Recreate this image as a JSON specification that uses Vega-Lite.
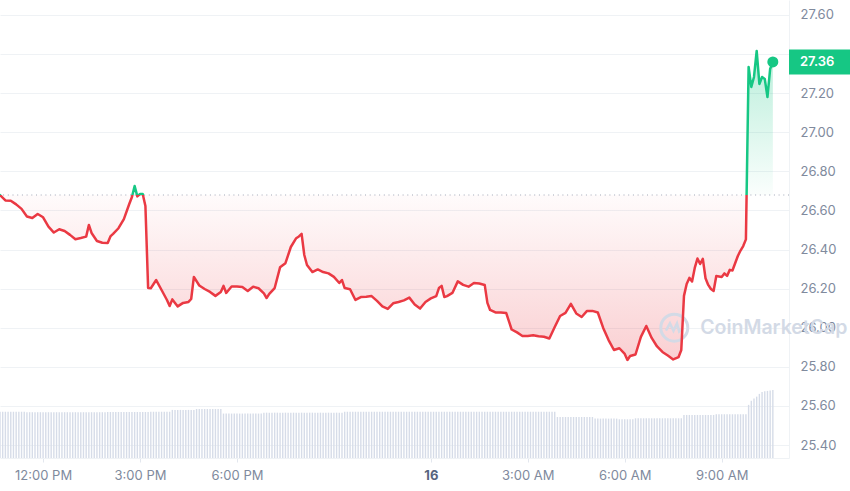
{
"$schema":"https://vega.github.io/schema/vega-lite/v6.json",
"width":789,"height":458,
"autosize":{"type":"none"},
"padding":{"left":0,"top":0,"right":61,"bottom":33},
"background":"#ffffff",
"config":{"view":{"stroke":null},"font":"Inter"},
"datasets":{
"price":[
{"t":"2024-01-15T10:40","p":26.679},{"t":"2024-01-15T10:50","p":26.651},{"t":"2024-01-15T11:00","p":26.650},{"t":"2024-01-15T11:10","p":26.631},{"t":"2024-01-15T11:20","p":26.608},{"t":"2024-01-15T11:30","p":26.569},{"t":"2024-01-15T11:40","p":26.561},{"t":"2024-01-15T11:50","p":26.582},
{"t":"2024-01-15T12:00","p":26.565},{"t":"2024-01-15T12:10","p":26.517},{"t":"2024-01-15T12:20","p":26.487},{"t":"2024-01-15T12:30","p":26.504},{"t":"2024-01-15T12:40","p":26.495},{"t":"2024-01-15T12:50","p":26.475},
{"t":"2024-01-15T13:00","p":26.453},{"t":"2024-01-15T13:10","p":26.459},{"t":"2024-01-15T13:20","p":26.466},{"t":"2024-01-15T13:25","p":26.526},{"t":"2024-01-15T13:30","p":26.485},{"t":"2024-01-15T13:40","p":26.444},{"t":"2024-01-15T13:50","p":26.435},
{"t":"2024-01-15T14:00","p":26.434},{"t":"2024-01-15T14:05","p":26.467},{"t":"2024-01-15T14:10","p":26.480},{"t":"2024-01-15T14:20","p":26.509},{"t":"2024-01-15T14:30","p":26.556},{"t":"2024-01-15T14:40","p":26.633},{"t":"2024-01-15T14:45","p":26.669},{"t":"2024-01-15T14:50","p":26.725},{"t":"2024-01-15T14:55","p":26.672},
{"t":"2024-01-15T15:00","p":26.684},{"t":"2024-01-15T15:05","p":26.684},{"t":"2024-01-15T15:10","p":26.623},{"t":"2024-01-15T15:15","p":26.203},{"t":"2024-01-15T15:20","p":26.202},{"t":"2024-01-15T15:30","p":26.244},{"t":"2024-01-15T15:40","p":26.193},{"t":"2024-01-15T15:50","p":26.142},{"t":"2024-01-15T15:55","p":26.111},
{"t":"2024-01-15T16:00","p":26.145},{"t":"2024-01-15T16:10","p":26.109},{"t":"2024-01-15T16:20","p":26.127},{"t":"2024-01-15T16:30","p":26.132},{"t":"2024-01-15T16:35","p":26.147},{"t":"2024-01-15T16:40","p":26.260},{"t":"2024-01-15T16:50","p":26.216},
{"t":"2024-01-15T17:00","p":26.198},{"t":"2024-01-15T17:10","p":26.183},{"t":"2024-01-15T17:20","p":26.163},{"t":"2024-01-15T17:30","p":26.183},{"t":"2024-01-15T17:35","p":26.214},{"t":"2024-01-15T17:40","p":26.178},{"t":"2024-01-15T17:50","p":26.211},
{"t":"2024-01-15T18:00","p":26.211},{"t":"2024-01-15T18:10","p":26.208},{"t":"2024-01-15T18:20","p":26.188},{"t":"2024-01-15T18:30","p":26.210},{"t":"2024-01-15T18:40","p":26.202},{"t":"2024-01-15T18:50","p":26.176},{"t":"2024-01-15T18:55","p":26.152},
{"t":"2024-01-15T19:00","p":26.173},{"t":"2024-01-15T19:10","p":26.203},{"t":"2024-01-15T19:20","p":26.309},{"t":"2024-01-15T19:30","p":26.330},{"t":"2024-01-15T19:40","p":26.413},{"t":"2024-01-15T19:50","p":26.458},{"t":"2024-01-15T19:55","p":26.467},
{"t":"2024-01-15T20:00","p":26.480},{"t":"2024-01-15T20:05","p":26.372},{"t":"2024-01-15T20:10","p":26.321},{"t":"2024-01-15T20:20","p":26.285},{"t":"2024-01-15T20:30","p":26.298},{"t":"2024-01-15T20:40","p":26.285},{"t":"2024-01-15T20:50","p":26.278},
{"t":"2024-01-15T21:00","p":26.260},{"t":"2024-01-15T21:10","p":26.229},{"t":"2024-01-15T21:15","p":26.244},{"t":"2024-01-15T21:20","p":26.203},{"t":"2024-01-15T21:30","p":26.197},{"t":"2024-01-15T21:40","p":26.142},{"t":"2024-01-15T21:50","p":26.157},
{"t":"2024-01-15T22:00","p":26.159},{"t":"2024-01-15T22:10","p":26.162},{"t":"2024-01-15T22:20","p":26.137},{"t":"2024-01-15T22:30","p":26.109},{"t":"2024-01-15T22:40","p":26.096},{"t":"2024-01-15T22:50","p":26.125},
{"t":"2024-01-15T23:00","p":26.132},{"t":"2024-01-15T23:10","p":26.140},{"t":"2024-01-15T23:20","p":26.154},{"t":"2024-01-15T23:30","p":26.119},{"t":"2024-01-15T23:40","p":26.098},{"t":"2024-01-15T23:50","p":26.132},
{"t":"2024-01-16T00:00","p":26.150},{"t":"2024-01-16T00:10","p":26.162},{"t":"2024-01-16T00:15","p":26.203},{"t":"2024-01-16T00:20","p":26.214},{"t":"2024-01-16T00:25","p":26.157},{"t":"2024-01-16T00:30","p":26.162},{"t":"2024-01-16T00:40","p":26.178},{"t":"2024-01-16T00:50","p":26.237},
{"t":"2024-01-16T01:00","p":26.219},{"t":"2024-01-16T01:10","p":26.210},{"t":"2024-01-16T01:20","p":26.229},{"t":"2024-01-16T01:30","p":26.226},{"t":"2024-01-16T01:40","p":26.219},{"t":"2024-01-16T01:45","p":26.127},{"t":"2024-01-16T01:50","p":26.091},
{"t":"2024-01-16T02:00","p":26.078},{"t":"2024-01-16T02:10","p":26.078},{"t":"2024-01-16T02:20","p":26.075},{"t":"2024-01-16T02:30","p":25.991},{"t":"2024-01-16T02:40","p":25.976},{"t":"2024-01-16T02:50","p":25.958},
{"t":"2024-01-16T03:00","p":25.958},{"t":"2024-01-16T03:10","p":25.961},{"t":"2024-01-16T03:20","p":25.956},{"t":"2024-01-16T03:30","p":25.954},{"t":"2024-01-16T03:40","p":25.945},{"t":"2024-01-16T03:50","p":26.004},
{"t":"2024-01-16T04:00","p":26.060},{"t":"2024-01-16T04:10","p":26.076},{"t":"2024-01-16T04:20","p":26.122},{"t":"2024-01-16T04:30","p":26.073},{"t":"2024-01-16T04:40","p":26.055},{"t":"2024-01-16T04:50","p":26.086},
{"t":"2024-01-16T05:00","p":26.086},{"t":"2024-01-16T05:10","p":26.078},{"t":"2024-01-16T05:20","p":25.999},{"t":"2024-01-16T05:30","p":25.937},{"t":"2024-01-16T05:40","p":25.886},{"t":"2024-01-16T05:50","p":25.895},
{"t":"2024-01-16T06:00","p":25.866},{"t":"2024-01-16T06:05","p":25.835},{"t":"2024-01-16T06:10","p":25.855},{"t":"2024-01-16T06:20","p":25.863},{"t":"2024-01-16T06:30","p":25.953},{"t":"2024-01-16T06:40","p":26.009},{"t":"2024-01-16T06:50","p":25.948},
{"t":"2024-01-16T07:00","p":25.904},{"t":"2024-01-16T07:10","p":25.876},{"t":"2024-01-16T07:20","p":25.858},{"t":"2024-01-16T07:30","p":25.838},{"t":"2024-01-16T07:40","p":25.850},{"t":"2024-01-16T07:45","p":25.886},{"t":"2024-01-16T07:50","p":26.163},{"t":"2024-01-16T07:55","p":26.224},
{"t":"2024-01-16T08:00","p":26.255},{"t":"2024-01-16T08:05","p":26.237},{"t":"2024-01-16T08:10","p":26.306},{"t":"2024-01-16T08:15","p":26.354},{"t":"2024-01-16T08:20","p":26.326},{"t":"2024-01-16T08:25","p":26.352},{"t":"2024-01-16T08:30","p":26.253},{"t":"2024-01-16T08:35","p":26.219},{"t":"2024-01-16T08:40","p":26.198},{"t":"2024-01-16T08:45","p":26.188},{"t":"2024-01-16T08:50","p":26.265},
{"t":"2024-01-16T09:00","p":26.260},{"t":"2024-01-16T09:05","p":26.278},{"t":"2024-01-16T09:10","p":26.265},{"t":"2024-01-16T09:15","p":26.296},{"t":"2024-01-16T09:20","p":26.293},{"t":"2024-01-16T09:30","p":26.367},{"t":"2024-01-16T09:35","p":26.395},{"t":"2024-01-16T09:40","p":26.418},{"t":"2024-01-16T09:45","p":26.452},{"t":"2024-01-16T09:50","p":27.334},{"t":"2024-01-16T09:55","p":27.232},
{"t":"2024-01-16T10:00","p":27.283},{"t":"2024-01-16T10:05","p":27.416},{"t":"2024-01-16T10:10","p":27.247},{"t":"2024-01-16T10:15","p":27.283},{"t":"2024-01-16T10:20","p":27.273},{"t":"2024-01-16T10:25","p":27.180},{"t":"2024-01-16T10:30","p":27.324},{"t":"2024-01-16T10:35","p":27.360}
],
"vol":[
{"t":"2024-01-15T10:40","v":101},{"t":"2024-01-15T10:45","v":101},{"t":"2024-01-15T10:50","v":101},{"t":"2024-01-15T10:55","v":101},
{"t":"2024-01-15T11:00","v":101},{"t":"2024-01-15T11:05","v":101},{"t":"2024-01-15T11:10","v":101},{"t":"2024-01-15T11:15","v":101},{"t":"2024-01-15T11:20","v":101},{"t":"2024-01-15T11:25","v":101},{"t":"2024-01-15T11:30","v":100},{"t":"2024-01-15T11:35","v":100},{"t":"2024-01-15T11:40","v":100},{"t":"2024-01-15T11:45","v":100},{"t":"2024-01-15T11:50","v":100},{"t":"2024-01-15T11:55","v":100},
{"t":"2024-01-15T12:00","v":100},{"t":"2024-01-15T12:05","v":100},{"t":"2024-01-15T12:10","v":100},{"t":"2024-01-15T12:15","v":100},{"t":"2024-01-15T12:20","v":100},{"t":"2024-01-15T12:25","v":100},{"t":"2024-01-15T12:30","v":100},{"t":"2024-01-15T12:35","v":100},{"t":"2024-01-15T12:40","v":100},{"t":"2024-01-15T12:45","v":100},{"t":"2024-01-15T12:50","v":100},{"t":"2024-01-15T12:55","v":100},
{"t":"2024-01-15T13:00","v":100},{"t":"2024-01-15T13:05","v":100},{"t":"2024-01-15T13:10","v":100},{"t":"2024-01-15T13:15","v":100},{"t":"2024-01-15T13:20","v":100},{"t":"2024-01-15T13:25","v":100},{"t":"2024-01-15T13:30","v":100},{"t":"2024-01-15T13:35","v":100},{"t":"2024-01-15T13:40","v":100},{"t":"2024-01-15T13:45","v":100},{"t":"2024-01-15T13:50","v":100},{"t":"2024-01-15T13:55","v":100},
{"t":"2024-01-15T14:00","v":100.5},{"t":"2024-01-15T14:05","v":100.5},{"t":"2024-01-15T14:10","v":100.5},{"t":"2024-01-15T14:15","v":100.5},{"t":"2024-01-15T14:20","v":100.5},{"t":"2024-01-15T14:25","v":100.5},{"t":"2024-01-15T14:30","v":100.5},{"t":"2024-01-15T14:35","v":100.5},{"t":"2024-01-15T14:40","v":100.5},{"t":"2024-01-15T14:45","v":100.5},{"t":"2024-01-15T14:50","v":100.5},{"t":"2024-01-15T14:55","v":100.5},
{"t":"2024-01-15T15:00","v":100.5},{"t":"2024-01-15T15:05","v":100.5},{"t":"2024-01-15T15:10","v":100.5},{"t":"2024-01-15T15:15","v":100.5},{"t":"2024-01-15T15:20","v":101},{"t":"2024-01-15T15:25","v":101},{"t":"2024-01-15T15:30","v":101},{"t":"2024-01-15T15:35","v":101},{"t":"2024-01-15T15:40","v":101},{"t":"2024-01-15T15:45","v":101},{"t":"2024-01-15T15:50","v":101},{"t":"2024-01-15T15:55","v":101},
{"t":"2024-01-15T16:00","v":105},{"t":"2024-01-15T16:05","v":105},{"t":"2024-01-15T16:10","v":105},{"t":"2024-01-15T16:15","v":105},{"t":"2024-01-15T16:20","v":105},{"t":"2024-01-15T16:25","v":105},{"t":"2024-01-15T16:30","v":105},{"t":"2024-01-15T16:35","v":105},{"t":"2024-01-15T16:40","v":105},{"t":"2024-01-15T16:45","v":107},{"t":"2024-01-15T16:50","v":107},{"t":"2024-01-15T16:55","v":107},
{"t":"2024-01-15T17:00","v":107},{"t":"2024-01-15T17:05","v":107},{"t":"2024-01-15T17:10","v":107},{"t":"2024-01-15T17:15","v":107},{"t":"2024-01-15T17:20","v":107},{"t":"2024-01-15T17:25","v":107},{"t":"2024-01-15T17:30","v":107},{"t":"2024-01-15T17:35","v":97},{"t":"2024-01-15T17:40","v":97},{"t":"2024-01-15T17:45","v":97},{"t":"2024-01-15T17:50","v":97},{"t":"2024-01-15T17:55","v":97},
{"t":"2024-01-15T18:00","v":97},{"t":"2024-01-15T18:05","v":97},{"t":"2024-01-15T18:10","v":97},{"t":"2024-01-15T18:15","v":97},{"t":"2024-01-15T18:20","v":97},{"t":"2024-01-15T18:25","v":97},{"t":"2024-01-15T18:30","v":97},{"t":"2024-01-15T18:35","v":97},{"t":"2024-01-15T18:40","v":97},{"t":"2024-01-15T18:45","v":97},{"t":"2024-01-15T18:50","v":99},{"t":"2024-01-15T18:55","v":99},
{"t":"2024-01-15T19:00","v":99},{"t":"2024-01-15T19:05","v":99},{"t":"2024-01-15T19:10","v":99},{"t":"2024-01-15T19:15","v":99},{"t":"2024-01-15T19:20","v":99},{"t":"2024-01-15T19:25","v":99},{"t":"2024-01-15T19:30","v":99},{"t":"2024-01-15T19:35","v":99},{"t":"2024-01-15T19:40","v":99},{"t":"2024-01-15T19:45","v":99},{"t":"2024-01-15T19:50","v":99},{"t":"2024-01-15T19:55","v":99},
{"t":"2024-01-15T20:00","v":99},{"t":"2024-01-15T20:05","v":99},{"t":"2024-01-15T20:10","v":99},{"t":"2024-01-15T20:15","v":99},{"t":"2024-01-15T20:20","v":99},{"t":"2024-01-15T20:25","v":99},{"t":"2024-01-15T20:30","v":99},{"t":"2024-01-15T20:35","v":99},{"t":"2024-01-15T20:40","v":99},{"t":"2024-01-15T20:45","v":99},{"t":"2024-01-15T20:50","v":99},{"t":"2024-01-15T20:55","v":99},
{"t":"2024-01-15T21:00","v":99},{"t":"2024-01-15T21:05","v":99},{"t":"2024-01-15T21:10","v":99},{"t":"2024-01-15T21:15","v":99},{"t":"2024-01-15T21:20","v":101},{"t":"2024-01-15T21:25","v":101},{"t":"2024-01-15T21:30","v":101},{"t":"2024-01-15T21:35","v":101},{"t":"2024-01-15T21:40","v":101},{"t":"2024-01-15T21:45","v":101},{"t":"2024-01-15T21:50","v":101},{"t":"2024-01-15T21:55","v":101},
{"t":"2024-01-15T22:00","v":101},{"t":"2024-01-15T22:05","v":101},{"t":"2024-01-15T22:10","v":101},{"t":"2024-01-15T22:15","v":101},{"t":"2024-01-15T22:20","v":101},{"t":"2024-01-15T22:25","v":101},{"t":"2024-01-15T22:30","v":101},{"t":"2024-01-15T22:35","v":101},{"t":"2024-01-15T22:40","v":101},{"t":"2024-01-15T22:45","v":101},{"t":"2024-01-15T22:50","v":101},{"t":"2024-01-15T22:55","v":101},
{"t":"2024-01-15T23:00","v":101},{"t":"2024-01-15T23:05","v":101},{"t":"2024-01-15T23:10","v":101},{"t":"2024-01-15T23:15","v":101},{"t":"2024-01-15T23:20","v":101},{"t":"2024-01-15T23:25","v":101},{"t":"2024-01-15T23:30","v":101},{"t":"2024-01-15T23:35","v":101},{"t":"2024-01-15T23:40","v":101},{"t":"2024-01-15T23:45","v":101},{"t":"2024-01-15T23:50","v":101},{"t":"2024-01-15T23:55","v":101},
{"t":"2024-01-16T00:00","v":101},{"t":"2024-01-16T00:05","v":101},{"t":"2024-01-16T00:10","v":101},{"t":"2024-01-16T00:15","v":101},{"t":"2024-01-16T00:20","v":101},{"t":"2024-01-16T00:25","v":101},{"t":"2024-01-16T00:30","v":101},{"t":"2024-01-16T00:35","v":101},{"t":"2024-01-16T00:40","v":101},{"t":"2024-01-16T00:45","v":101},{"t":"2024-01-16T00:50","v":101},{"t":"2024-01-16T00:55","v":101},
{"t":"2024-01-16T01:00","v":101},{"t":"2024-01-16T01:05","v":101},{"t":"2024-01-16T01:10","v":101},{"t":"2024-01-16T01:15","v":101},{"t":"2024-01-16T01:20","v":101},{"t":"2024-01-16T01:25","v":101},{"t":"2024-01-16T01:30","v":101},{"t":"2024-01-16T01:35","v":101},{"t":"2024-01-16T01:40","v":101},{"t":"2024-01-16T01:45","v":101},{"t":"2024-01-16T01:50","v":101},{"t":"2024-01-16T01:55","v":101},
{"t":"2024-01-16T02:00","v":101},{"t":"2024-01-16T02:05","v":101},{"t":"2024-01-16T02:10","v":101},{"t":"2024-01-16T02:15","v":101},{"t":"2024-01-16T02:20","v":101},{"t":"2024-01-16T02:25","v":101},{"t":"2024-01-16T02:30","v":101},{"t":"2024-01-16T02:35","v":101},{"t":"2024-01-16T02:40","v":101},{"t":"2024-01-16T02:45","v":101},{"t":"2024-01-16T02:50","v":101},{"t":"2024-01-16T02:55","v":101},
{"t":"2024-01-16T03:00","v":101},{"t":"2024-01-16T03:05","v":101},{"t":"2024-01-16T03:10","v":101},{"t":"2024-01-16T03:15","v":101},{"t":"2024-01-16T03:20","v":101},{"t":"2024-01-16T03:25","v":101},{"t":"2024-01-16T03:30","v":101},{"t":"2024-01-16T03:35","v":101},{"t":"2024-01-16T03:40","v":101},{"t":"2024-01-16T03:45","v":101},{"t":"2024-01-16T03:50","v":101},{"t":"2024-01-16T03:55","v":89.5},
{"t":"2024-01-16T04:00","v":89.5},{"t":"2024-01-16T04:05","v":89.5},{"t":"2024-01-16T04:10","v":89.5},{"t":"2024-01-16T04:15","v":89.5},{"t":"2024-01-16T04:20","v":89.5},{"t":"2024-01-16T04:25","v":89.5},{"t":"2024-01-16T04:30","v":89.5},{"t":"2024-01-16T04:35","v":89.5},{"t":"2024-01-16T04:40","v":89.5},{"t":"2024-01-16T04:45","v":89.5},{"t":"2024-01-16T04:50","v":89.5},{"t":"2024-01-16T04:55","v":89.5},
{"t":"2024-01-16T05:00","v":89.5},{"t":"2024-01-16T05:05","v":86},{"t":"2024-01-16T05:10","v":86},{"t":"2024-01-16T05:15","v":86},{"t":"2024-01-16T05:20","v":86},{"t":"2024-01-16T05:25","v":86},{"t":"2024-01-16T05:30","v":86},{"t":"2024-01-16T05:35","v":86},{"t":"2024-01-16T05:40","v":86},{"t":"2024-01-16T05:45","v":86},{"t":"2024-01-16T05:50","v":84.5},{"t":"2024-01-16T05:55","v":84.5},
{"t":"2024-01-16T06:00","v":84.5},{"t":"2024-01-16T06:05","v":84.5},{"t":"2024-01-16T06:10","v":84.5},{"t":"2024-01-16T06:15","v":84.5},{"t":"2024-01-16T06:20","v":86.7},{"t":"2024-01-16T06:25","v":86.7},{"t":"2024-01-16T06:30","v":86.7},{"t":"2024-01-16T06:35","v":86.7},{"t":"2024-01-16T06:40","v":86.7},{"t":"2024-01-16T06:45","v":86.7},{"t":"2024-01-16T06:50","v":86.7},{"t":"2024-01-16T06:55","v":86.7},
{"t":"2024-01-16T07:00","v":86.7},{"t":"2024-01-16T07:05","v":86.7},{"t":"2024-01-16T07:10","v":86.7},{"t":"2024-01-16T07:15","v":86.7},{"t":"2024-01-16T07:20","v":86.7},{"t":"2024-01-16T07:25","v":86.7},{"t":"2024-01-16T07:30","v":86.7},{"t":"2024-01-16T07:35","v":86.7},{"t":"2024-01-16T07:40","v":86.7},{"t":"2024-01-16T07:45","v":86.7},{"t":"2024-01-16T07:50","v":94},{"t":"2024-01-16T07:55","v":94},
{"t":"2024-01-16T08:00","v":94},{"t":"2024-01-16T08:05","v":94},{"t":"2024-01-16T08:10","v":94},{"t":"2024-01-16T08:15","v":94},{"t":"2024-01-16T08:20","v":94},{"t":"2024-01-16T08:25","v":94},{"t":"2024-01-16T08:30","v":94},{"t":"2024-01-16T08:35","v":94},{"t":"2024-01-16T08:40","v":94},{"t":"2024-01-16T08:45","v":94},{"t":"2024-01-16T08:50","v":95.5},{"t":"2024-01-16T08:55","v":95.5},
{"t":"2024-01-16T09:00","v":95.5},{"t":"2024-01-16T09:05","v":95.5},{"t":"2024-01-16T09:10","v":95.5},{"t":"2024-01-16T09:15","v":95.5},{"t":"2024-01-16T09:20","v":95.5},{"t":"2024-01-16T09:25","v":95.5},{"t":"2024-01-16T09:30","v":95.5},{"t":"2024-01-16T09:35","v":95.5},{"t":"2024-01-16T09:40","v":95.5},{"t":"2024-01-16T09:45","v":95.5},{"t":"2024-01-16T09:50","v":116},{"t":"2024-01-16T09:55","v":125},
{"t":"2024-01-16T10:00","v":130},{"t":"2024-01-16T10:05","v":134},{"t":"2024-01-16T10:10","v":140},{"t":"2024-01-16T10:15","v":144},{"t":"2024-01-16T10:20","v":146},{"t":"2024-01-16T10:25","v":146.5},{"t":"2024-01-16T10:30","v":147.5},{"t":"2024-01-16T10:35","v":148.5}
],
"last":[{"t":"2024-01-16T10:35","p":27.36}]
},
"resolve":{"scale":{"y":"independent"}},
"layer":[
{"data":{"name":"vol"},
 "mark":{"type":"bar","size":1.4,"color":"#d6dce8"},
 "encoding":{
  "x":{"field":"t","type":"temporal","title":null,"scale":{"domain":[{"year":2024,"month":1,"date":15,"hours":10,"minutes":40},{"year":2024,"month":1,"date":16,"hours":11,"minutes":5}],"padding":0},
   "axis":{"values":[{"year":2024,"month":1,"date":15,"hours":12},{"year":2024,"month":1,"date":15,"hours":15},{"year":2024,"month":1,"date":15,"hours":18},{"year":2024,"month":1,"date":16,"hours":0},{"year":2024,"month":1,"date":16,"hours":3},{"year":2024,"month":1,"date":16,"hours":6},{"year":2024,"month":1,"date":16,"hours":9}],
    "labelExpr":"hours(datum.value) == 0 ? timeFormat(datum.value, '%-d') : timeFormat(datum.value, '%-I:%M %p')",
    "labelFontWeight":{"condition":{"test":"hours(datum.value) == 0","value":"bold"},"value":"normal"},
    "labelColor":{"condition":{"test":"hours(datum.value) == 0","value":"#58667e"},"value":"#808a9d"},
    "grid":false,"ticks":true,"tickColor":"#e3e7ee","tickSize":4,"domain":true,"domainColor":"#eff2f5",
    "labelPadding":7,"labelFontSize":13,"labelFont":"Inter","title":null,"labelOverlap":false,"labelFlush":false}},
  "y":{"field":"v","type":"quantitative","title":null,"scale":{"domain":[0,1000]},"axis":null}
 }},
{"layer":[
 {"data":{"name":"price"},
  "mark":{"type":"area","clip":true,"line":false,
   "fill":{"gradient":"linear","x1":0,"x2":0,"y1":0,"y2":1,"stops":[{"offset":0,"color":"rgba(22,199,132,0.30)"},{"offset":0.4662,"color":"rgba(22,199,132,0.02)"},{"offset":0.4662,"color":"rgba(234,57,67,0.02)"},{"offset":1,"color":"rgba(234,57,67,0.24)"}]}},
  "encoding":{
   "x":{"field":"t","type":"temporal","title":null},
   "y":{"field":"p","type":"quantitative","title":null},
   "y2":{"datum":26.679}
  }},
 {"data":{"values":[{}]},
  "mark":{"type":"rule","stroke":"#a3a9b8","strokeDash":[1,3.7],"strokeWidth":1.2},
  "encoding":{"y":{"datum":26.679,"type":"quantitative","title":null}}},
 {"data":{"values":[{}]},
  "mark":{"type":"point","shape":"circle","size":729,"filled":false,"stroke":"#d3dae6","strokeWidth":3,"opacity":1,"clip":false},
  "encoding":{"x":{"datum":{"year":2024,"month":1,"date":16,"hours":7,"minutes":32},"type":"temporal","title":null},
   "y":{"datum":26.0,"type":"quantitative","title":null}}},
 {"data":{"values":[{}]},
  "mark":{"type":"point","shape":"M-0.62,0.22 L-0.32,-0.32 L-0.06,0.22 L0.2,-0.32 L0.36,0.28 L0.62,0.05","size":729,"filled":false,"stroke":"#d3dae6","strokeWidth":2.6,"opacity":1,"clip":false},
  "encoding":{"x":{"datum":{"year":2024,"month":1,"date":16,"hours":7,"minutes":32},"type":"temporal","title":null},
   "y":{"datum":26.0,"type":"quantitative","title":null}}},
 {"data":{"values":[{}]},
  "mark":{"type":"text","text":"CoinMarketCap","align":"left","baseline":"middle","fontSize":19.5,"fontWeight":600,"font":"Inter","color":"#d3dae6","clip":false},
  "encoding":{"x":{"datum":{"year":2024,"month":1,"date":16,"hours":8,"minutes":20},"type":"temporal","title":null},
   "y":{"datum":26.0,"type":"quantitative","title":null}}},
 {"data":{"name":"price"},
  "mark":{"type":"line","clip":true,"strokeWidth":2.5,"strokeJoin":"round","strokeCap":"round",
   "stroke":{"gradient":"linear","x1":0,"x2":0,"y1":0,"y2":1,"stops":[{"offset":0,"color":"#16c784"},{"offset":0.4662,"color":"#16c784"},{"offset":0.4662,"color":"#ea3943"},{"offset":1,"color":"#ea3943"}]}},
  "encoding":{
   "x":{"field":"t","type":"temporal","title":null},
   "y":{"field":"p","type":"quantitative","title":null,"scale":{"domain":[25.3335,27.6767],"nice":false,"zero":false},
    "axis":{"orient":"right","values":[25.4,25.6,25.8,26,26.2,26.4,26.6,26.8,27,27.2,27.4,27.6],
     "labelExpr":"datum.value == 27.4 ? '' : format(datum.value, '.2f')",
     "grid":true,"gridColor":"#eff2f5","gridWidth":1,"ticks":false,"domain":true,"domainColor":"#eff2f5",
     "labelPadding":11,"labelFontSize":13,"labelColor":"#808a9d","labelFont":"Inter","title":null}}
  }},
 {"data":{"name":"last"},
  "mark":{"type":"point","filled":true,"size":121,"color":"#16c784","opacity":1},
  "encoding":{
   "x":{"field":"t","type":"temporal","title":null},
   "y":{"field":"p","type":"quantitative","title":null}}},
 {"data":{"name":"last"},
  "mark":{"type":"rule","stroke":"#16c784","strokeWidth":25,"strokeCap":"butt","x":{"expr":"width"},"x2":{"expr":"width+62"},"clip":false},
  "encoding":{"y":{"field":"p","type":"quantitative","title":null}}},
 {"data":{"name":"last"},
  "mark":{"type":"text","x":{"expr":"width+11"},"align":"left","baseline":"middle","color":"#ffffff","fontSize":13,"fontWeight":600,"font":"Inter","clip":false},
  "encoding":{"y":{"field":"p","type":"quantitative","title":null},
   "text":{"field":"p","type":"quantitative","format":".2f"}}}
]}
]
}
